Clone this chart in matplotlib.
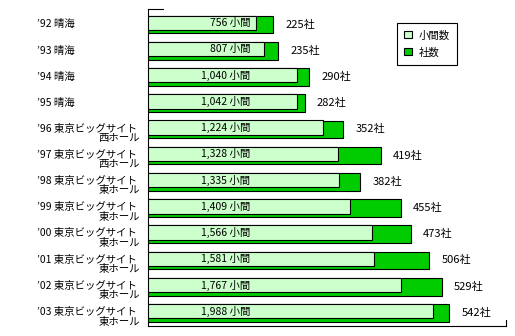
import matplotlib
matplotlib.use("Agg")

import matplotlib.pyplot as plt
import matplotlib.transforms as mtransforms
from matplotlib.patches import Patch

plt.rcParams['font.family'] = ['Noto Sans CJK JP', 'DejaVu Sans']

# data
years = ["’92", "’93", "’94", "’95", "’96", "’97", "’98", "’99", "’00", "’01", "’02", "’03"]
venue_line1 = ["晴海", "晴海", "晴海", "晴海",
               "東京ビッグサイト", "東京ビッグサイト", "東京ビッグサイト", "東京ビッグサイト",
               "東京ビッグサイト", "東京ビッグサイト", "東京ビッグサイト", "東京ビッグサイト"]
venue_line2 = ["", "", "", "",
               "西ホール", "西ホール", "東ホール", "東ホール",
               "東ホール", "東ホール", "東ホール", "東ホール"]
booths = [756, 807, 1040, 1042, 1224, 1328, 1335, 1409, 1566, 1581, 1767, 1988]
companies = [225, 235, 290, 282, 352, 419, 382, 455, 473, 506, 529, 542]

light = '#CCFFCC'
green = '#00CC00'

fig = plt.figure(figsize=(5.15, 3.36), dpi=100)
ax = fig.add_axes([148/515, 10/336, 358/515, 317/336])
ax2 = ax.twiny()

pos = list(range(len(years)))

# companies (back, green)
ax2.barh(pos, companies, height=0.675, color=green, edgecolor='black', linewidth=0.8)
# booths (front, light green), shifted up a bit
ax.barh([p - 0.063 for p in pos], booths, height=0.55, color=light,
        edgecolor='black', linewidth=0.8, zorder=3)
ax.set_zorder(ax2.get_zorder() + 1)
ax.patch.set_visible(False)

ax.set_xlim(0, 2500)
ax2.set_xlim(0, 645)
for a in (ax, ax2):
    a.set_ylim(11.5, -0.59)
    a.set_xticks([])
    a.set_yticks([])
    for s in ('top', 'right'):
        a.spines[s].set_visible(False)
ax2.spines['left'].set_visible(False)
ax2.spines['bottom'].set_visible(False)
ax.spines['left'].set_linewidth(0.8)
ax.spines['bottom'].set_linewidth(0.8)

# small end ticks of the axes
ax.plot([0, 15/358], [1, 1], color='black', lw=0.8, transform=ax.transAxes, clip_on=False)
ax.plot([1, 1], [0, 6/317], color='black', lw=0.8, transform=ax.transAxes, clip_on=False)

# booth labels inside bars at a fixed position
inside = mtransforms.blended_transform_factory(ax.transAxes, ax.transData)
for p, b in zip(pos, booths):
    ax.text(0.285, p - 0.063, f"{b:,} 小間", transform=inside,
            ha='right', va='center', fontsize=7.5, zorder=4)

# company labels right of bars
for p, c in zip(pos, companies):
    ax2.annotate(f"{c}社", (c, p), xytext=(9, 0), textcoords='offset points',
                 ha='left', va='center', fontsize=8)

# category labels
tr = mtransforms.blended_transform_factory(fig.transFigure, ax.transData)
for p, y, v1, v2 in zip(pos, years, venue_line1, venue_line2):
    if v2:
        ax.text(37/515, p - 0.03, f"{y} {v1}", transform=tr, ha='left', va='center', fontsize=7.5)
        ax.text(140/515, p + 0.33, v2, transform=tr, ha='right', va='center', fontsize=7.5)
    else:
        ax.text(37/515, p, f"{y} {v1}", transform=tr, ha='left', va='center', fontsize=7.5)

handles = [Patch(facecolor=light, edgecolor='black', linewidth=0.8, label='小間数'),
           Patch(facecolor=green, edgecolor='black', linewidth=0.8, label='社数')]
leg = fig.legend(handles=handles, loc='upper left', bbox_to_anchor=(397/515, 1 - 23/336),
                 fancybox=False, edgecolor='black', framealpha=1, fontsize=7.5,
                 handlelength=0.7, handleheight=0.7, handletextpad=0.7,
                 borderpad=0.7, labelspacing=0.65, borderaxespad=0)
leg.get_frame().set_linewidth(0.8)

plt.savefig('out.png', dpi=100)
